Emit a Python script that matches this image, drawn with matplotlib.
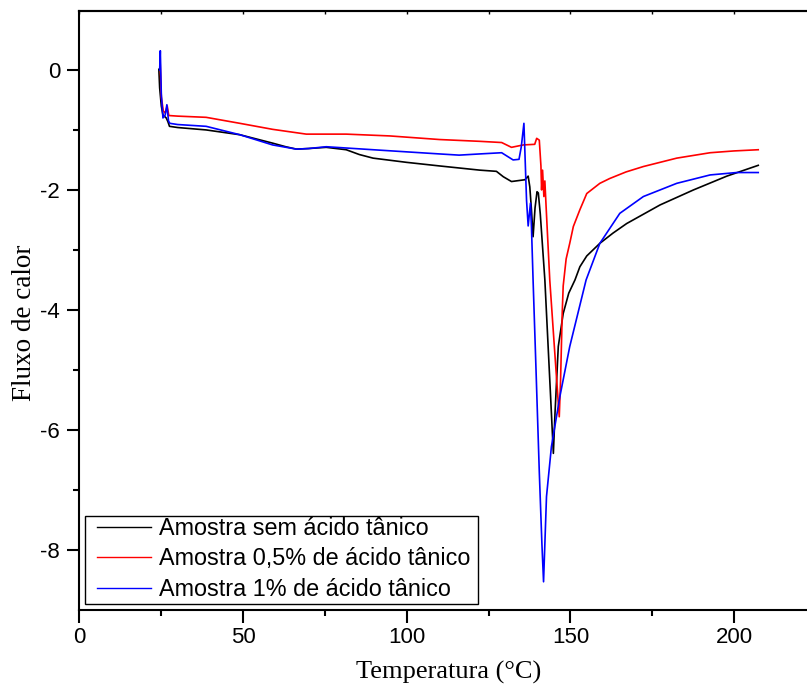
import matplotlib
matplotlib.use("Agg")
import matplotlib.pyplot as plt
from matplotlib.patches import Rectangle

plt.rcParams["axes.unicode_minus"] = False

# DSC curves
temp_sem = [24.25, 24.5, 25.0, 25.5, 26.5, 27.0, 27.5, 30, 38.7, 49, 59, 63, 66.3, 70, 75.4, 81.5,
            85.5, 89.7, 99.9, 110, 122.3, 127.4, 129.5, 132, 136.1, 137.1, 137.6, 138.1, 138.6, 139.2,
            139.8, 140.2, 140.8, 142.2, 143.2, 144.2, 144.8, 145.3, 146.3, 147.8, 149.5,
            151.4, 152.9, 155, 159, 163, 167.2, 177.4, 187.6, 197.8, 207.4]
flux_sem = [0.01, -0.3, -0.6, -0.75, -0.8, -0.86, -0.94, -0.96, -1.0, -1.08, -1.22, -1.28, -1.32,
            -1.31, -1.29, -1.33, -1.41, -1.47, -1.54, -1.6, -1.67, -1.69, -1.78, -1.86, -1.83, -1.77,
            -1.95, -2.33, -2.78, -2.3, -2.03, -2.05, -2.4, -3.5, -4.61, -5.72, -6.39, -5.72,
            -4.61, -4.06, -3.72, -3.5, -3.28, -3.1, -2.89, -2.72, -2.56, -2.25, -2.0, -1.77, -1.59]

temp_05 = [24.6, 25.0, 25.6, 26.2, 26.8, 27.3, 30, 38.7, 49, 59, 69.3, 81.5, 94.8, 110, 122.3, 129,
           132, 135.6, 139.1, 139.7, 140.5, 141.0, 141.2, 141.5, 141.9, 142.2, 142.6, 143.7,
           145.1, 146.6, 147.0, 147.5, 147.8, 148.7, 149.8, 150.9, 152.9, 155, 159, 162, 167,
           172.3, 182.5, 192.7, 200, 207.4]
flux_05 = [0.2, -0.45, -0.68, -0.72, -0.6, -0.76, -0.77, -0.79, -0.89, -0.99, -1.07, -1.07, -1.1,
           -1.16, -1.19, -1.21, -1.29, -1.25, -1.24, -1.14, -1.17, -1.6, -2.0, -1.67, -2.11, -1.85,
           -2.3, -3.5, -4.61, -5.78, -5.17, -4.06, -3.6, -3.15, -2.89, -2.61, -2.33, -2.06, -1.89,
           -1.81, -1.7, -1.61, -1.47, -1.38, -1.35, -1.33]

temp_1 = [24.5, 24.7, 25.0, 25.5, 26.2, 26.7, 27.2, 27.6, 30, 38.7, 49, 59, 66.3, 70, 75.4, 89.7,
          110, 116, 122.3, 129, 132.5, 134.3, 135.0, 135.8, 136.6, 137.1, 137.8, 138.1, 138.6,
          139.5, 140.5, 141.3, 141.8, 142.7, 144.2, 146.8, 149.8, 154.8, 159, 165.1,
          172.3, 182.5, 192.7, 200.8, 207.4]
flux_1 = [0.0, 0.32, -0.4, -0.8, -0.75, -0.58, -0.85, -0.89, -0.91, -0.94, -1.08, -1.25, -1.32,
          -1.31, -1.28, -1.33, -1.4, -1.42, -1.40, -1.38, -1.5, -1.49, -1.28, -0.89, -2.17, -2.6,
          -2.22, -2.61, -3.5, -5.0, -6.7, -7.9, -8.53, -7.11, -6.28, -5.44, -4.61, -3.5,
          -2.89, -2.39, -2.11, -1.89, -1.75, -1.71, -1.71]

labels = ["Amostra sem ácido tânico", "Amostra 0,5% de ácido tânico", "Amostra 1% de ácido tânico"]

fig = plt.figure(figsize=(8.07, 6.86), dpi=100)
ax = fig.add_axes([0.0985, 0.1108, 0.9015, 0.873])

ax.plot(temp_sem, flux_sem, color="black", lw=1.2, label=labels[0])
ax.plot(temp_05, flux_05, color="red", lw=1.2, label=labels[1])
ax.plot(temp_1, flux_1, color="blue", lw=1.2, label=labels[2])

ax.set_xlim(0, 222.3)
ax.set_ylim(-9.0, 0.98)
ax.set_xticks([0, 50, 100, 150, 200])
ax.set_xticks([25, 75, 125, 175], minor=True)
ax.set_yticks([0, -2, -4, -6, -8])
ax.set_yticks([-1, -3, -5, -7], minor=True)

for s in ["left", "bottom", "top"]:
    ax.spines[s].set_linewidth(1.5)
ax.spines["right"].set_visible(False)

ax.tick_params(which="major", direction="out", length=9, width=1.5,
               labelsize=16, labelfontfamily="Liberation Sans")
ax.tick_params(which="minor", direction="out", length=4.5, width=1.5)
ax.tick_params(axis="x", pad=3.5)
ax.tick_params(axis="y", pad=5)

top = ax.secondary_xaxis("top")
top.set_xticks([0, 25, 50, 75, 100, 125, 150, 175, 200])
top.tick_params(direction="in", length=2, width=1, labeltop=False)
top.spines["top"].set_linewidth(1.5)

ax.set_xlabel("Temperatura (°C)", fontsize=19, family="Liberation Serif")
ax.set_ylabel("Fluxo de calor", fontsize=19.5, family="Liberation Serif")
ax.xaxis.set_label_coords(0.507, -0.085)
ax.yaxis.set_label_coords(-0.058, 0.48)

# legend without its own frame, frame drawn separately (the original has asymmetric padding)
leg = ax.legend(loc="center left", bbox_to_anchor=(97 / 807, 1 - 559 / 686),
                bbox_transform=fig.transFigure, borderaxespad=0, borderpad=0,
                prop={"family": "Liberation Sans", "size": 16.8}, frameon=False,
                handlelength=2.3, handletextpad=0.35, labelspacing=0.33)
for h in leg.get_lines():
    h.set_linewidth(1.0)
ax.add_patch(Rectangle((85 / 807, 1 - 604 / 686), 393 / 807, 88 / 686,
                       transform=fig.transFigure, facecolor="white", edgecolor="black",
                       lw=1.0, zorder=4, clip_on=False))

fig.savefig("out.png", dpi=100)
